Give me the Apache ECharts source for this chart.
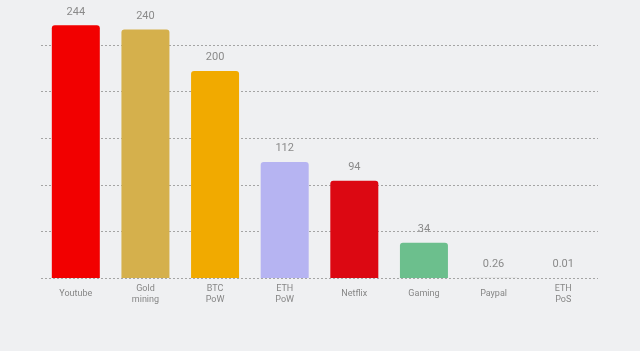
<!DOCTYPE html>
<html>
<head>
<meta charset="utf-8">
<script src="https://cdn.jsdelivr.net/npm/echarts@6/dist/echarts.min.js"></script>
<style>
  html, body { margin: 0; padding: 0; background: #eff0f2; }
  #chart { width: 640px; height: 351px; }
</style>
</head>
<body>
<div id="chart"></div>
<script>
var categories = ['Youtube', 'Gold\nmining', 'BTC\nPoW', 'ETH\nPoW', 'Netflix', 'Gaming', 'Paypal', 'ETH\nPoS'];
var values = [244, 240, 200, 112, 94, 34, 0.26, 0.01];
var valueLabels = ['244', '240', '200', '112', '94', '34', '0.26', '0.01'];
var barColors = ['#f20000', '#d5b04c', '#f1aa00', '#b6b4f2', '#dc0812', '#6cbf8d', '#cccccc', '#cccccc'];

var chart = echarts.init(document.getElementById('chart'));

var option = {
    backgroundColor: '#eff0f2',
    grid: {
        left: 41,
        right: 42,
        top: 45,
        bottom: 73
    },
    xAxis: {
        type: 'category',
        data: categories,
        axisLine: { show: false },
        axisTick: { show: false },
        axisLabel: {
            color: '#868686',
            fontFamily: 'Roboto',
            fontSize: 9,
            lineHeight: 11,
            verticalAlign: 'middle',
            margin: 16
        }
    },
    yAxis: {
        type: 'value',
        min: 0,
        max: 225,
        interval: 45,
        axisLabel: { show: false },
        axisLine: { show: false },
        axisTick: { show: false },
        splitLine: {
            lineStyle: { color: '#a4a4a4', type: [2, 2], width: 1 }
        }
    },
    series: [{
        type: 'bar',
        clip: false,
        barWidth: 48,
        data: values.map(function (v, i) {
            return {
                value: v,
                itemStyle: { color: barColors[i], borderRadius: [3, 3, 0, 0] }
            };
        }),
        label: {
            show: true,
            position: 'top',
            distance: 8,
            color: '#8a8a8a',
            fontFamily: 'Roboto',
            fontSize: 11,
            formatter: function (p) { return valueLabels[p.dataIndex]; }
        }
    }]
};

chart.setOption(option);
</script>
</body>
</html>
